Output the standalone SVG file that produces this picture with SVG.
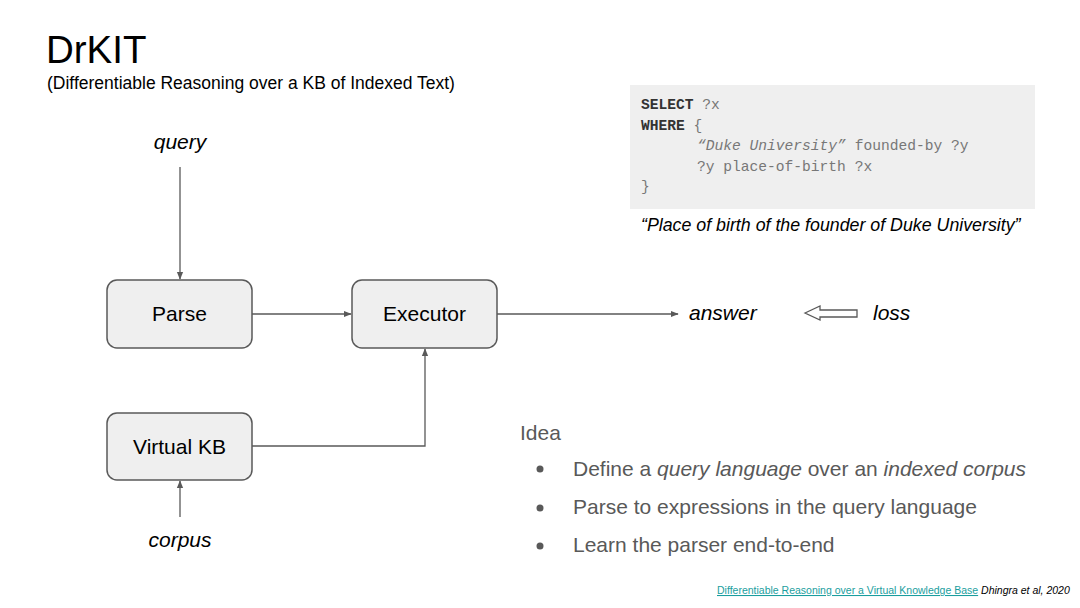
<svg xmlns="http://www.w3.org/2000/svg" width="1080" height="608" viewBox="0 0 1080 608">
<style>
text{font-family:"Liberation Sans",Arial,sans-serif;}
.box{fill:#efefef;stroke:#595959;stroke-width:1.5;}
.lbl{font-size:21px;fill:#000;text-anchor:middle;}
.it{font-style:italic;font-size:21px;fill:#000;}
.cap{font-style:italic;font-size:17.8px;fill:#000;}
.con{fill:none;stroke:#595959;stroke-width:1.3;}
.code{font-family:"Liberation Mono","Courier New",monospace;font-size:14.6px;fill:#777;}
.bul{font-size:21px;fill:#595959;}
</style>
<defs>
<marker id="ah" viewBox="0 0 10 10" refX="9" refY="5" markerWidth="6" markerHeight="6" orient="auto">
<path d="M0,1 L10,5 L0,9 z" fill="#595959"/>
</marker>
</defs>
<rect width="1080" height="608" fill="#ffffff"/>
<g id="title">
<text x="46" y="63" font-size="38.5" fill="#000">DrKIT</text>
<text x="47" y="89" font-size="17.5" fill="#000">(Differentiable Reasoning over a KB of Indexed Text)</text>
</g>
<g id="code">
<rect x="630" y="85" width="405" height="124" fill="#efefef"/>
<text class="code" x="641" y="109"><tspan font-weight="bold" fill="#333">SELECT</tspan> ?x</text>
<text class="code" x="641" y="130"><tspan font-weight="bold" fill="#333">WHERE</tspan> {</text>
<text class="code" x="697" y="150"><tspan font-style="italic">“Duke University”</tspan> founded-by ?y</text>
<text class="code" x="697" y="171">?y place-of-birth ?x</text>
<text class="code" x="641" y="191">}</text>
<text class="cap" x="641" y="231">“Place of birth of the founder of Duke University”</text>
</g>
<g id="connectors">
<line class="con" x1="180" y1="167" x2="180" y2="279" marker-end="url(#ah)"/>
<line class="con" x1="180" y1="517" x2="180" y2="481" marker-end="url(#ah)"/>
<line class="con" x1="252" y1="314" x2="351" y2="314" marker-end="url(#ah)"/>
<polyline class="con" points="252,446 425,446 425,349" marker-end="url(#ah)"/>
<line class="con" x1="497" y1="314" x2="678" y2="314" marker-end="url(#ah)"/>
</g>
<g id="parse">
<rect class="box" x="107" y="280" width="145" height="68" rx="10"/>
<text class="lbl" x="179.5" y="321">Parse</text>
</g>
<g id="executor">
<rect class="box" x="352" y="280" width="145" height="68" rx="10"/>
<text class="lbl" x="424.5" y="321">Executor</text>
</g>
<g id="virtualkb">
<rect class="box" x="107" y="413" width="145" height="67" rx="10"/>
<text class="lbl" x="179.5" y="454">Virtual KB</text>
</g>
<g id="query"><text class="it" x="180" y="149" text-anchor="middle">query</text></g>
<g id="corpus"><text class="it" x="180" y="547" text-anchor="middle">corpus</text></g>
<g id="answer"><text class="it" x="689" y="320">answer</text></g>
<g id="loss">
<path d="M805,313 L820,306 L820,310 L857,310 L857,317 L820,317 L820,320 Z" fill="#ffffff" stroke="#595959" stroke-width="1.3"/>
<text class="it" x="873" y="320">loss</text>
</g>
<g id="idea">
<text class="bul" x="520" y="440">Idea</text>
<circle cx="540" cy="469" r="3.5" fill="#595959"/>
<circle cx="540" cy="508" r="3.5" fill="#595959"/>
<circle cx="540" cy="546" r="3.5" fill="#595959"/>
<text class="bul" x="573" y="476">Define a <tspan font-style="italic">query language</tspan> over an <tspan font-style="italic">indexed corpus</tspan></text>
<text class="bul" x="573" y="514">Parse to expressions in the query language</text>
<text class="bul" x="573" y="552">Learn the parser end-to-end</text>
</g>
<g id="footer">
<text x="717" y="594" font-size="10.5"><tspan fill="#1a9e9e" text-decoration="underline">Differentiable Reasoning over a Virtual Knowledge Base</tspan><tspan fill="#000" font-style="italic"> Dhingra et al, 2020</tspan></text>
</g>
</svg>
